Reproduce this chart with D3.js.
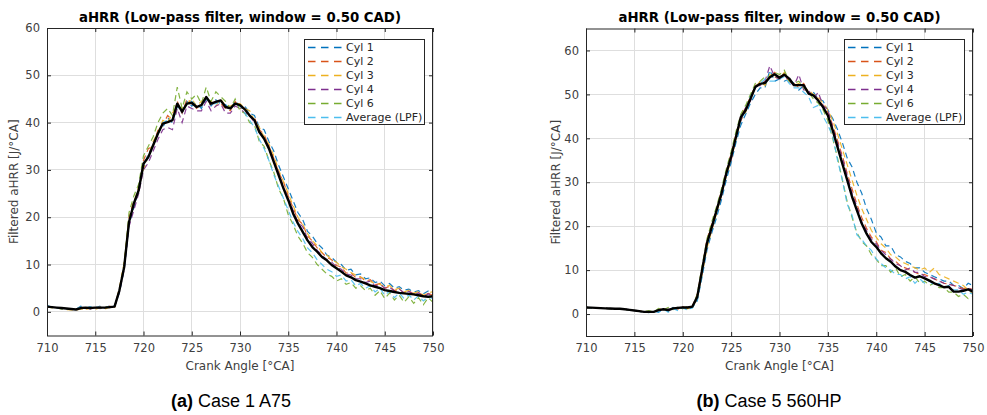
<!DOCTYPE html>
<html>
<head>
<meta charset="utf-8">
<script src="https://cdn.jsdelivr.net/npm/d3@7"></script>
<style>
  html, body { margin: 0; padding: 0; background: #fff; }
  svg { display: block; }
</style>
</head>
<body>
<svg id="chart" width="987" height="415"></svg>
<script>
// ---------------- DATA ----------------
const angles = [
  710,710.5,711,711.5,712,712.5,713,713.5,714,714.5,
  715,715.5,716,716.5,717,717.5,718,718.5,719,719.5,
  720,720.5,721,721.5,722,722.5,723,723.5,724,724.5,
  725,725.5,726,726.5,727,727.5,728,728.5,729,729.5,
  730,730.5,731,731.5,732,732.5,733,733.5,734,734.5,
  735,735.5,736,736.5,737,737.5,738,738.5,739,739.5,
  740,740.5,741,741.5,742,742.5,743,743.5,744,744.5,
  745,745.5,746,746.5,747,747.5,748,748.5,749,749.5,
  750];

const seriesNames = ["Cyl 1", "Cyl 2", "Cyl 3", "Cyl 4", "Cyl 6", "Average (LPF)"];
const xTicks = [710, 715, 720, 725, 730, 735, 740, 745, 750];
const yTicks = [0, 10, 20, 30, 40, 50, 60];
const chartTitle = "aHRR (Low-pass filter, window = 0.50 CAD)";
const xLabel = "Crank Angle [°CA]";
const yLabel = "Filtered aHRR [J/°CA]";

// Case 1 A75
const case1Cyl1 = [
  1.3,1.0,0.9,0.7,0.6,0.5,0.5,1.2,0.7,1.1,
  0.8,1.2,0.8,1.3,1.2,4.0,9.0,18.5,22.0,26.0,
  30.5,33.5,34.8,38.0,39.0,41.0,40.0,43.5,42.0,44.5,
  43.5,44.0,43.0,45.0,43.5,44.8,44.0,43.8,42.8,44.5,
  43.5,43.5,42.0,41.5,39.0,38.5,36.0,34.0,31.0,28.5,
  26.0,23.5,21.0,19.5,17.0,16.0,14.5,13.5,12.0,11.5,
  10.5,10.0,8.8,9.0,7.8,8.0,7.0,7.2,6.2,6.5,
  5.5,6.0,5.0,5.3,4.6,4.8,4.2,4.5,3.8,4.4,
  4.8];
const case1Cyl2 = [
  1.1,1.0,0.8,0.8,0.6,0.6,0.4,0.9,0.6,1.0,
  0.7,1.1,0.8,1.2,1.0,4.8,10.0,20.0,23.5,25.0,
  32.0,34.5,35.0,38.5,39.5,41.5,40.5,44.5,42.0,45.0,
  44.0,43.0,44.0,45.5,43.5,44.5,44.0,43.0,42.5,44.5,
  43.0,43.0,41.5,41.0,38.5,37.5,35.0,32.5,29.5,27.5,
  24.5,22.0,19.5,18.5,16.0,15.0,13.5,12.5,11.5,11.0,
  9.8,9.5,8.2,8.3,7.2,7.4,6.5,6.8,5.7,6.0,
  5.0,5.4,4.5,4.8,4.0,4.4,3.8,4.1,3.4,3.9,
  3.5];
const case1Cyl3 = [
  1.0,0.9,0.8,0.6,0.5,0.4,0.4,0.6,0.4,0.9,
  0.5,0.9,0.6,1.0,0.9,5.0,10.5,19.5,23.0,26.5,
  30.0,33.0,36.0,38.0,40.5,40.0,42.0,43.5,43.0,44.0,
  45.0,43.5,44.5,45.0,44.5,43.5,45.0,43.5,43.5,44.0,
  44.0,43.0,42.5,40.5,39.0,37.0,35.5,33.0,30.0,27.5,
  25.0,22.5,20.0,18.5,16.5,15.0,14.0,12.5,12.0,11.0,
  10.5,9.5,9.0,8.3,7.8,7.3,6.9,6.4,6.0,5.8,
  5.3,5.6,4.7,5.0,4.2,4.6,3.9,4.3,3.5,4.0,
  4.3];
const case1Cyl4 = [
  1.1,1.0,0.9,0.7,0.7,0.5,0.6,0.7,0.9,0.6,
  1.0,0.7,1.0,0.9,1.1,4.2,9.0,18.0,21.5,25.0,
  30.0,31.5,34.0,36.5,38.5,39.0,38.5,43.0,40.0,43.5,
  43.0,42.5,42.5,44.5,42.5,43.5,44.0,42.0,42.0,43.5,
  43.0,42.0,41.5,40.0,38.5,36.5,35.0,32.0,29.5,26.5,
  24.0,21.5,19.0,18.0,15.5,14.5,13.0,12.0,11.0,10.5,
  9.5,9.0,8.0,7.8,7.0,7.0,6.2,6.5,5.5,5.8,
  5.0,5.2,4.4,4.8,4.0,4.3,3.7,4.0,3.2,3.8,
  3.5];
const case1Cyl6 = [
  1.2,0.9,0.9,0.6,0.7,0.5,0.5,0.9,0.8,0.7,
  1.0,0.8,1.1,0.9,1.2,4.6,10.0,21.0,24.5,27.0,
  33.0,35.0,37.0,40.0,42.0,43.0,41.5,47.5,43.0,46.5,
  45.0,46.0,44.0,47.5,44.5,46.5,45.5,44.5,43.0,45.0,
  42.5,42.0,40.0,39.5,36.0,35.0,32.0,29.5,26.0,24.0,
  20.5,18.5,16.0,14.5,12.5,11.5,10.0,9.0,8.0,7.5,
  6.5,7.0,5.8,6.2,5.0,5.5,4.5,5.0,3.5,4.5,
  2.8,4.0,2.5,3.5,2.0,3.2,1.8,3.0,1.5,3.0,
  2.0];
const case1Avg = [
  1.2,1.0,0.8,0.7,0.6,0.6,0.5,1.0,0.7,1.1,
  0.9,1.0,0.9,1.1,1.0,4.4,9.3,19.0,22.5,25.5,
  31.0,32.5,35.5,37.5,40.0,40.5,40.5,44.0,42.5,44.0,
  44.5,43.5,43.5,45.0,44.0,44.0,44.5,43.5,43.0,44.0,
  43.5,42.0,40.5,39.0,36.5,34.5,32.0,29.0,26.5,24.0,
  21.5,19.0,17.0,15.5,13.5,12.5,11.0,10.0,9.0,8.5,
  7.5,7.8,6.5,6.8,5.5,6.0,5.0,5.5,4.2,5.0,
  3.5,4.4,3.0,4.0,2.8,3.6,2.5,3.4,2.3,3.2,
  2.8];
const case1Mean = [
  1.1,1.0,0.9,0.8,0.7,0.6,0.5,0.8,0.9,0.8,
  0.9,0.9,0.9,1.0,1.1,4.5,9.5,19.0,22.9,25.7,
  31.3,32.7,35.2,37.7,39.8,40.1,40.5,44.0,42.3,44.0,
  44.2,43.3,43.7,45.4,44.0,44.4,44.7,43.3,43.0,44.0,
  43.7,42.8,41.5,40.5,38.0,36.6,34.5,31.7,28.9,26.1,
  23.6,20.8,18.7,16.9,15.1,13.7,12.7,11.6,10.9,9.9,
  9.2,8.5,7.7,7.3,6.7,6.4,6.0,5.6,5.3,5.0,
  4.6,4.4,4.2,4.0,3.9,3.8,3.7,3.5,3.3,3.2,
  3.3];

// Case 5 560HP
const case5Cyl1 = [
  1.5,1.4,1.4,1.3,1.3,1.2,1.2,1.1,1.1,0.9,
  0.8,0.6,0.5,0.3,0.7,0.4,1.2,0.6,1.5,0.9,
  1.6,1.0,1.5,3.0,8.5,14.5,18.5,22.0,26.0,30.5,
  34.5,39.0,43.0,45.5,48.0,50.0,51.5,51.5,55.5,53.0,
  53.5,53.0,53.5,52.5,51.0,52.0,50.5,50.5,49.0,48.5,
  46.5,44.5,42.0,39.0,35.5,33.5,30.0,27.5,24.0,21.5,
  18.5,17.5,15.5,15.5,13.5,13.0,12.0,11.5,10.5,10.5,
  9.5,9.0,8.5,8.0,7.5,7.5,6.5,6.5,5.8,7.0,
  6.5];
const case5Cyl2 = [
  1.5,1.4,1.4,1.3,1.3,1.2,1.2,1.2,1.1,0.9,
  0.8,0.7,0.5,0.6,0.4,1.0,1.3,0.7,1.4,1.1,
  1.7,1.3,1.8,4.5,10.5,17.0,20.5,24.0,28.0,32.5,
  36.5,41.0,45.0,47.0,49.5,52.0,52.5,53.0,54.0,55.0,
  54.0,54.5,53.0,52.5,51.5,52.5,50.5,50.0,49.0,47.5,
  46.0,43.0,39.5,36.0,32.0,28.5,25.0,22.0,19.5,17.5,
  16.5,14.5,14.0,12.5,12.0,11.0,10.5,10.0,9.5,9.0,
  9.0,8.5,8.0,7.5,7.0,6.8,6.5,6.2,5.8,6.0,
  5.5];
const case5Cyl3 = [
  1.5,1.4,1.4,1.3,1.3,1.2,1.2,1.2,1.1,0.9,
  0.8,0.6,0.5,0.4,0.6,0.8,1.4,0.9,1.2,1.4,
  1.5,1.2,1.6,3.5,9.0,15.0,19.0,23.0,27.0,31.5,
  35.0,40.0,44.0,46.0,49.5,51.5,53.0,52.0,54.5,54.0,
  53.5,55.0,53.0,52.0,52.5,51.5,51.0,50.0,49.5,48.0,
  46.5,44.0,41.0,37.5,34.0,30.5,27.0,24.0,21.5,19.0,
  17.5,16.0,15.0,13.5,13.0,12.0,11.5,11.0,10.5,10.0,
  10.5,9.5,10.5,9.0,8.5,8.0,7.5,7.0,6.5,5.5,
  4.5];
const case5Cyl4 = [
  1.5,1.4,1.4,1.3,1.3,1.2,1.2,1.1,1.1,1.0,
  0.8,0.6,0.5,0.5,0.6,0.7,1.0,1.2,0.8,1.5,
  1.3,1.6,1.7,3.8,9.5,16.5,19.0,24.0,27.0,32.5,
  35.0,40.5,44.0,47.0,48.5,52.0,52.0,53.0,56.5,54.0,
  53.5,54.5,53.0,52.0,54.5,51.0,51.0,49.0,50.5,47.5,
  46.5,42.5,39.0,35.5,31.5,27.5,24.5,21.0,19.0,17.0,
  16.0,14.5,13.5,12.5,11.5,11.0,10.0,10.5,9.5,9.5,
  8.5,8.5,8.0,7.5,7.0,6.8,6.5,6.0,5.5,5.8,
  5.5];
const case5Cyl6 = [
  1.5,1.4,1.4,1.3,1.3,1.2,1.2,1.1,1.1,0.9,
  0.8,0.6,0.5,0.8,0.4,1.3,0.9,1.5,1.0,1.6,
  1.2,1.8,1.5,4.5,11.0,17.0,21.0,24.5,28.5,33.0,
  37.0,41.5,45.5,47.5,50.0,52.5,53.0,54.0,54.0,55.0,
  54.5,55.5,53.0,52.5,53.0,51.5,50.5,49.0,48.0,46.5,
  44.0,40.0,35.5,30.5,25.5,22.0,18.5,16.5,15.5,13.5,
  12.5,11.0,11.0,9.5,10.5,8.5,9.0,7.5,8.5,7.0,
  7.5,6.5,7.0,6.0,6.0,5.0,5.0,4.0,4.5,3.5,
  4.0];
const case5Avg = [
  1.5,1.4,1.4,1.3,1.3,1.2,1.2,1.1,1.1,0.9,
  0.8,0.6,0.5,0.4,0.7,0.5,1.2,0.4,1.2,0.8,
  1.4,0.9,1.4,3.2,9.0,15.5,19.5,23.5,27.5,31.5,
  36.0,40.0,44.0,46.5,49.5,51.5,52.5,53.5,53.0,53.0,
  53.5,54.0,52.5,51.5,51.5,50.5,49.5,47.0,47.5,45.0,
  43.0,40.5,35.0,30.5,25.0,22.5,18.0,17.0,15.5,14.5,
  12.5,11.5,10.5,10.0,9.0,9.0,8.0,8.5,7.0,8.0,
  7.0,7.5,6.5,7.0,6.0,6.5,5.5,5.5,4.5,5.0,
  4.5];
const case5Mean = [
  1.5,1.45,1.4,1.35,1.3,1.25,1.2,1.2,1.1,0.95,
  0.8,0.65,0.5,0.5,0.5,0.9,1.1,0.9,1.3,1.4,
  1.5,1.5,1.7,3.9,10.0,16.1,19.8,23.6,27.4,32.0,
  35.8,40.3,44.8,46.4,49.0,51.7,52.4,52.6,53.9,54.6,
  53.8,54.5,53.6,52.1,52.1,52.1,50.2,49.8,48.6,47.1,
  45.2,41.8,38.0,34.2,30.5,26.7,23.6,20.6,18.3,16.4,
  15.3,13.8,12.7,11.9,10.8,10.0,9.6,8.9,8.3,8.6,
  8.1,7.6,7.0,6.6,6.1,6.2,5.1,5.1,5.3,5.6,
  5.1];

const seriesColors = ["#0072BD", "#D95319", "#EDB120", "#7E2F8E", "#77AC30", "#4DBEEE"];

// ---------------- DRAW ----------------
const svg = d3.select("#chart");
const FONT = "'DejaVu Sans', sans-serif";

function panel(cfg) {
  const { left, right, top, bottom, yDomain, series, mean, caption, capLetter, capX, yLabelX, id } = cfg;
  const x = d3.scaleLinear().domain([710, 750]).range([left, right]);
  const y = d3.scaleLinear().domain(yDomain).range([bottom, top]);
  const g = svg.append("g");

  // grid
  g.append("g").selectAll("line").data(xTicks).join("line")
    .attr("x1", d => x(d)).attr("x2", d => x(d)).attr("y1", top).attr("y2", bottom)
    .attr("stroke", "#dedede").attr("stroke-width", 1).attr("shape-rendering", "crispEdges");
  g.append("g").selectAll("line").data(yTicks).join("line")
    .attr("y1", d => y(d)).attr("y2", d => y(d)).attr("x1", left).attr("x2", right)
    .attr("stroke", "#dedede").attr("stroke-width", 1).attr("shape-rendering", "crispEdges");

  // clip
  svg.append("clipPath").attr("id", "clip" + id).append("rect")
    .attr("x", left).attr("y", top).attr("width", right - left).attr("height", bottom - top);

  const line = d3.line().x((d, i) => x(angles[i])).y(d => y(d));
  const lines = g.append("g").attr("clip-path", `url(#clip${id})`);
  series.forEach((s, i) => {
    lines.append("path").datum(s).attr("d", line)
      .attr("fill", "none").attr("stroke", seriesColors[i]).attr("stroke-width", 1.2)
      .attr("stroke-dasharray", "6,4").attr("opacity", 0.9);
  });
  lines.append("path").datum(mean).attr("d", line)
    .attr("fill", "none").attr("stroke", "#000").attr("stroke-width", 2.4)
    .attr("stroke-linejoin", "round");

  // axes (MATLAB-style ticks inside on all sides)
  const axB = g.append("g").attr("transform", `translate(0,${bottom})`)
    .call(d3.axisBottom(x).tickValues(xTicks).tickSize(-4).tickPadding(8).tickFormat(d3.format("d")));
  const axT = g.append("g").attr("transform", `translate(0,${top})`)
    .call(d3.axisTop(x).tickValues(xTicks).tickSize(-4).tickFormat(""));
  const axL = g.append("g").attr("transform", `translate(${left},0)`)
    .call(d3.axisLeft(y).tickValues(yTicks).tickSize(-4).tickPadding(7).tickFormat(d3.format("d")));
  const axR = g.append("g").attr("transform", `translate(${right},0)`)
    .call(d3.axisRight(y).tickValues(yTicks).tickSize(-4).tickFormat(""));
  [axB, axT, axL, axR].forEach(a => {
    a.select(".domain").remove();
    a.selectAll(".tick line").attr("stroke", "#262626");
    a.selectAll("text").attr("font-family", FONT).attr("font-size", 11.5).attr("fill", "#404040");
  });

  g.append("rect").attr("x", left + 0.5).attr("y", top + 0.5)
    .attr("width", right - left - 1).attr("height", bottom - top)
    .attr("fill", "none").attr("stroke", "#262626").attr("stroke-width", 1);

  // title
  g.append("text").attr("x", (left + right) / 2).attr("y", 22)
    .attr("text-anchor", "middle").attr("font-family", FONT).attr("font-weight", "bold")
    .attr("font-size", 13.3).attr("fill", "#000").text(chartTitle);

  // x label
  g.append("text").attr("x", (left + right) / 2).attr("y", 370)
    .attr("text-anchor", "middle").attr("font-family", FONT)
    .attr("font-size", 12).attr("fill", "#404040").text(xLabel);

  // y label
  g.append("text").attr("transform", `translate(${yLabelX},${(top + bottom) / 2}) rotate(-90)`)
    .attr("text-anchor", "middle").attr("dy", "0.35em").attr("font-family", FONT)
    .attr("font-size", 12).attr("fill", "#404040").text(yLabel);

  // legend
  const lx = right - 129, ly = 39, lw = 120, lh = 85;
  const leg = g.append("g");
  leg.append("rect").attr("x", lx + 0.5).attr("y", ly + 0.5).attr("width", lw).attr("height", lh)
    .attr("fill", "#fff").attr("stroke", "#262626").attr("stroke-width", 1);
  seriesNames.forEach((n, i) => {
    const cy = ly + 8.5 + i * 14;
    leg.append("line").attr("x1", lx + 4).attr("x2", lx + 42).attr("y1", cy).attr("y2", cy)
      .attr("stroke", seriesColors[i]).attr("stroke-width", 1.5).attr("stroke-dasharray", "7.5,5.5");
    leg.append("text").attr("x", lx + 42).attr("y", cy).attr("dy", "0.35em")
      .attr("font-family", FONT).attr("font-size", 11).attr("fill", "#262626").text(n);
  });

  // caption
  const cap = svg.append("text").attr("x", capX).attr("y", 407).attr("text-anchor", "middle")
    .attr("font-family", "'Liberation Sans', Arial, sans-serif").attr("font-size", 18).attr("fill", "#000");
  cap.append("tspan").attr("font-weight", "bold").text(`(${capLetter})`);
  cap.append("tspan").text(" " + caption);
}

panel({
  id: "a", left: 47, right: 433, top: 28, bottom: 335.5, yDomain: [-5, 60],
  series: [case1Cyl1, case1Cyl2, case1Cyl3, case1Cyl4, case1Cyl6, case1Avg], mean: case1Mean,
  caption: "Case 1 A75", capLetter: "a", capX: 231, yLabelX: 14
});
panel({
  id: "b", left: 586, right: 973, top: 28.5, bottom: 336, yDomain: [-5, 65],
  series: [case5Cyl1, case5Cyl2, case5Cyl3, case5Cyl4, case5Cyl6, case5Avg], mean: case5Mean,
  caption: "Case 5 560HP", capLetter: "b", capX: 769, yLabelX: 556
});
</script>
</body>
</html>
